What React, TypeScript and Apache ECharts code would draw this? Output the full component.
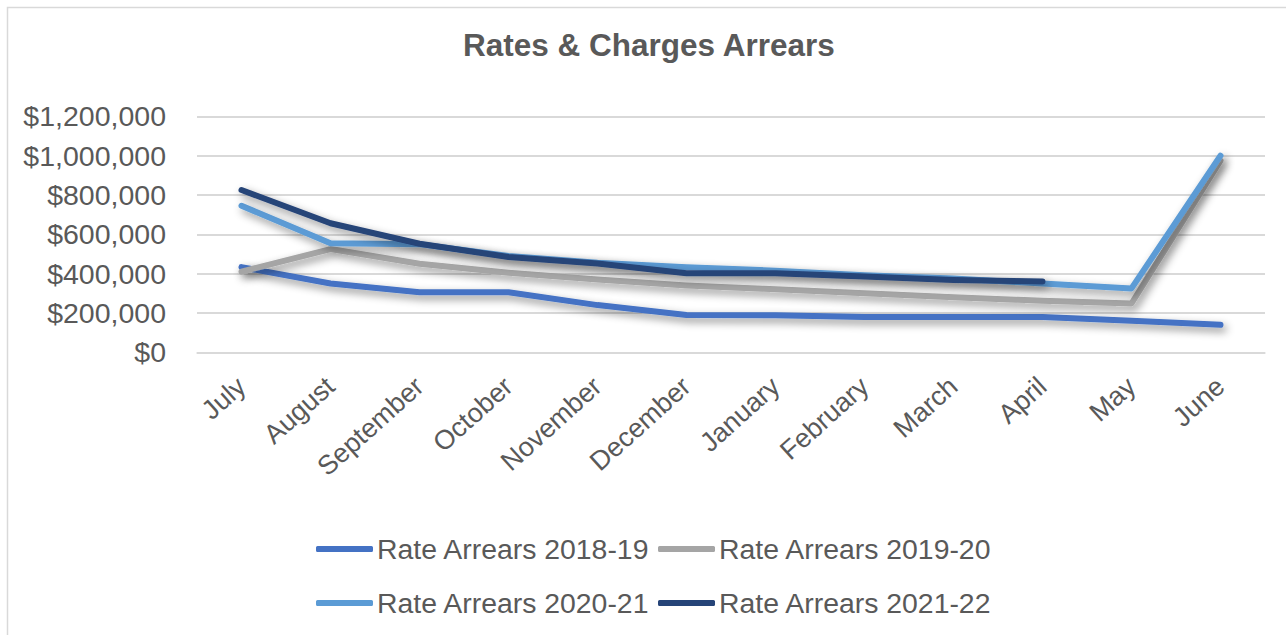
import React, { useEffect, useRef } from "react";
import * as echarts from "echarts";

const months = ["July", "August", "September", "October", "November", "December", "January", "February", "March", "April", "May", "June"];
const arrears1819 = [433000, 350000, 305000, 305000, 240000, 190000, 188000, 180000, 180000, 180000, 160000, 140000];
const arrears1920 = [410000, 525000, 450000, 405000, 370000, 340000, 320000, 300000, 280000, 262000, 248000, 975000];
const arrears2021 = [745000, 554000, 550000, 490000, 455000, 432000, 415000, 392000, 375000, 350000, 325000, 1000000];
const arrears2122 = [825000, 656000, 552000, 485000, 452000, 402000, 402000, 385000, 368000, 360000, null, null];
const seriesNames = ["Rate Arrears 2018-19", "Rate Arrears 2019-20", "Rate Arrears 2020-21", "Rate Arrears 2021-22"];
const seriesColors = ["#4472C4", "#A5A5A5", "#5B9BD5", "#264478"];
const yTicks = [0, 200000, 400000, 600000, 800000, 1000000, 1200000];

const fmt = (v: number) => "$" + v.toLocaleString("en-US");

export default function App() {
  const ref = useRef<HTMLDivElement>(null);
  useEffect(() => {
    if (!ref.current) return;
    const chart = echarts.init(ref.current, null, { renderer: "svg" });
    const datas = [arrears1819, arrears1920, arrears2021, arrears2122];
    const font = "'Liberation Sans', Arial, sans-serif";
    const legendCommon = {
      itemWidth: 57,
      itemHeight: 6,
      icon: "roundRect",
      itemGap: 8,
      textStyle: { fontSize: 28.4, color: "#595959", fontFamily: font, padding: [0, 0, 0, -1] },
    };
    chart.setOption({
      animation: false,
      backgroundColor: "#ffffff",
      title: {
        text: "Rates & Charges Arrears",
        left: 458,
        top: 24,
        textStyle: { fontSize: 31.5, fontWeight: "bold", color: "#595959", fontFamily: font },
      },
      grid: { left: 197, right: 21, top: 116.3, bottom: 282.7, containLabel: false },
      legend: [
        { ...legendCommon, data: [seriesNames[0], seriesNames[1]], left: 311, top: 530 },
        { ...legendCommon, data: [seriesNames[2], seriesNames[3]], left: 311, top: 584 },
      ],
      xAxis: {
        type: "category",
        data: months,
        boundaryGap: true,
        axisLine: { show: true, lineStyle: { color: "#D9D9D9", width: 1.5 } },
        axisTick: { show: false },
        axisLabel: { rotate: 42, fontSize: 27, color: "#595959", fontFamily: font, margin: 30, interval: 0 },
      },
      yAxis: {
        type: "value",
        min: 0,
        max: 1200000,
        interval: 200000,
        axisLine: { show: false },
        axisTick: { show: false },
        splitLine: { lineStyle: { color: "#D9D9D9", width: 2 } },
        axisLabel: {
          fontSize: 28.5,
          color: "#595959",
          fontFamily: font,
          margin: 31,
          formatter: (v: number) => (yTicks.includes(v) ? fmt(v) : ""),
        },
      },
      series: datas.map((d, i) => ({
        name: seriesNames[i],
        type: "line",
        data: d,
        symbol: "none",
        color: seriesColors[i],
        lineStyle: {
          width: 6,
          color: seriesColors[i],
          cap: "round",
          join: "round",
          shadowColor: "rgba(0,0,0,0.45)",
          shadowBlur: 8,
          shadowOffsetX: 3,
          shadowOffsetY: 4,
        },
        itemStyle: { color: seriesColors[i] },
        z: 2 + i,
      })),
      graphic: [
        {
          type: "rect",
          shape: { x: 7.5, y: 7.5, width: 1300, height: 650 },
          style: { fill: "none", stroke: "#D9D9D9", lineWidth: 1.5 },
          silent: true,
        },
      ],
    });
    return () => chart.dispose();
  }, []);
  return <div ref={ref} style={{ position: "absolute", left: 0, top: 0, width: 1286, height: 635 }} />;
}
